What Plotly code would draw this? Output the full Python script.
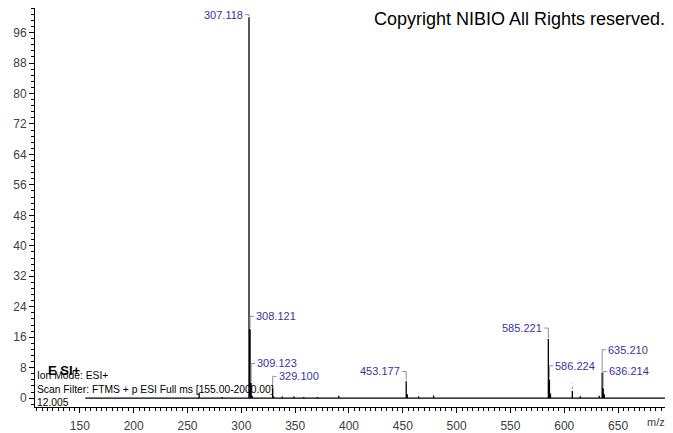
import plotly.graph_objects as go

# labelled peaks (m/z, relative abundance)
peak_mz = [307.118, 308.121, 309.123, 329.100, 453.177, 585.221, 586.224, 635.210, 636.214]
peak_int = [100.0, 18.1, 4.0, 2.5, 4.4, 15.5, 4.9, 6.7, 2.6]
# where the label sits (abundance units) and on which side of the stick
label_y = [100.7, 21.5, 9.1, 5.7, 7.0, 18.4, 8.5, 12.7, 7.0]
label_side = ["left", "right", "right", "right", "left", "left", "right", "right", "right"]

# small unlabelled peaks
minor_mz = [260.8, 282.0, 310.1, 330.1, 338.0, 348.8, 358.0, 370.7, 390.5, 454.18,
            464.7, 478.6, 587.2, 607.5, 614.9, 632.5, 637.2]
minor_int = [1.4, 0.3, 0.6, 0.4, 0.4, 0.4, 0.3, 0.3, 0.6, 1.0,
             0.5, 0.7, 1.2, 1.9, 0.5, 0.6, 1.0]

scan_start, scan_end = 155.0, 700.0
y_ticks = list(range(0, 97, 8))
x_ticks = list(range(150, 651, 50))

FONT = "Arial, Liberation Sans, sans-serif"
BLUE = "#3535a5"
GREY = "#9090a8"

# build stick spectrum as one connected trace on the baseline
sticks = sorted(zip(peak_mz + minor_mz, peak_int + minor_int))
xs, ys = [scan_start], [0]
for mz, h in sticks:
    xs += [mz, mz, mz]
    ys += [0, h, 0]
xs.append(scan_end)
ys.append(0)

fig = go.Figure(go.Scatter(x=xs, y=ys, mode="lines",
                           line=dict(color="black", width=1.3),
                           hoverinfo="skip", showlegend=False))

shapes = []
annotations = []
for mz, h, ly, side in zip(peak_mz, peak_int, label_y, label_side):
    shapes.append(dict(type="line", xref="x", yref="y", x0=mz, x1=mz, y0=ly, y1=h + 0.3,
                       line=dict(color=GREY, width=1)))
    shapes.append(dict(type="line", xref="x", yref="y", xsizemode="pixel", xanchor=mz,
                       x0=0, x1=-4 if side == "left" else 4, y0=ly, y1=ly,
                       line=dict(color=GREY, width=1)))
    annotations.append(dict(x=mz, y=ly, xref="x", yref="y", text=f"{mz:.3f}",
                            showarrow=False, xanchor="right" if side == "left" else "left",
                            xshift=-4 if side == "left" else 4, yanchor="middle",
                            font=dict(family=FONT, size=11, color=BLUE)))

# dashed marker over the unlabelled 607 peak
shapes.append(dict(type="line", xref="x", yref="y", x0=607.5, x1=607.5, y0=2.3, y1=4.1,
                   line=dict(color=GREY, width=1, dash="dot")))

annotations += [
    dict(text="Copyright NIBIO All Rights reserved.", xref="paper", yref="paper", x=1, y=1,
         xanchor="right", yanchor="middle", xshift=-6, yshift=-11, borderpad=0,
         showarrow=False, font=dict(family=FONT, size=18, color="black")),
    dict(text="<b>E SI+</b>", xref="paper", yref="paper", x=0, y=0, xanchor="left",
         yanchor="middle", xshift=11, yshift=37, showarrow=False,
         font=dict(family=FONT, size=13, color="black")),
    dict(text="Ion Mode: ESI+", xref="paper", yref="paper", x=0, y=0, xanchor="left",
         yanchor="middle", xshift=0, yshift=32, showarrow=False,
         font=dict(family=FONT, size=10.3, color="black")),
    dict(text="Scan Filter: FTMS + p ESI Full ms [155.00-2000.00]", xref="paper", yref="paper",
         x=0, y=0, xanchor="left", yanchor="middle", xshift=0, yshift=18, showarrow=False,
         font=dict(family=FONT, size=10.3, color="black")),
    dict(text="12.005", xref="paper", yref="paper", x=0, y=0, xanchor="left",
         yanchor="middle", xshift=0, yshift=5, showarrow=False,
         font=dict(family=FONT, size=10.3, color="black")),
    dict(text="m/z", xref="paper", yref="paper", x=1, y=0, xanchor="right",
         yanchor="middle", xshift=-5, yshift=-15, showarrow=False,
         font=dict(family=FONT, size=11, color="#404040")),
]

# page body keeps an 8px margin, so the figure is 8px smaller than the window
fig.update_layout(
    width=665, height=425,
    margin=dict(l=27, r=1, t=0, b=20),
    paper_bgcolor="white", plot_bgcolor="white",
    shapes=shapes, annotations=annotations,
    font=dict(family=FONT, size=12, color="#404040"),
)
fig.update_xaxes(range=[108.3, 700.1], showgrid=False, zeroline=False,
                 showline=True, linecolor="black", linewidth=1,
                 tickvals=x_ticks, ticks="outside", ticklen=5, tickcolor="black",
                 ticklabelstandoff=3,
                 minor=dict(dtick=5, tick0=0, ticks="outside", ticklen=3, tickcolor="black"))
fig.update_yaxes(range=[-2.33, 102.46], showgrid=False, zeroline=False,
                 showline=True, linecolor="black", linewidth=1,
                 tickvals=y_ticks, ticks="outside", ticklen=5, tickcolor="black",
                 minor=dict(dtick=1.6, tick0=0, ticks="outside", ticklen=3, tickcolor="black"))

fig.write_html("out.html")
